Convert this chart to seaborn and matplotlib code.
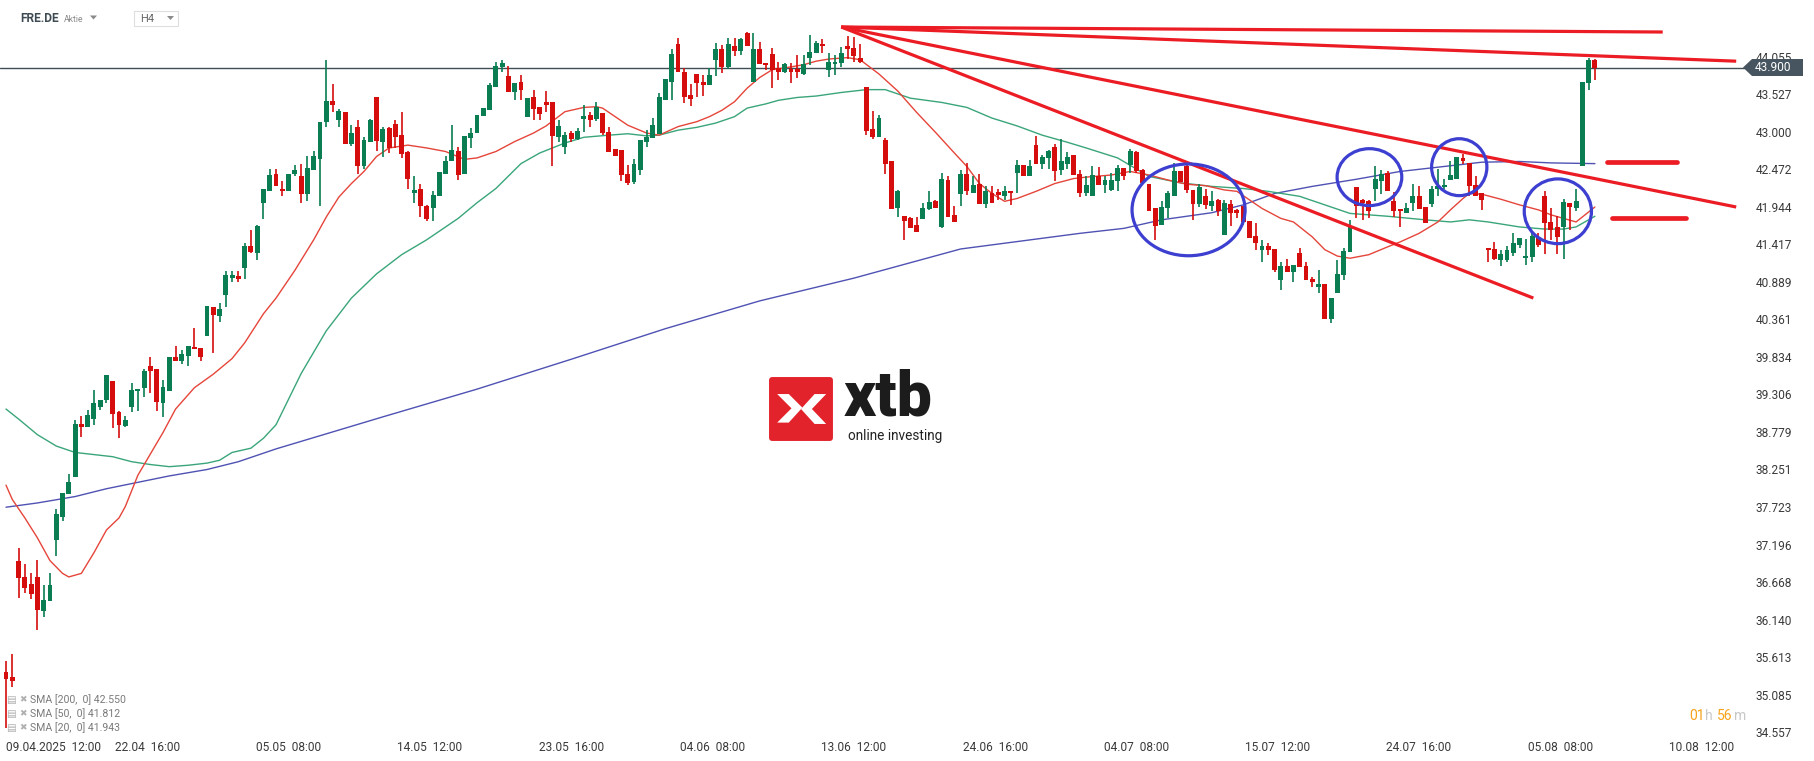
import numpy as np
import pandas as pd
import matplotlib
matplotlib.use("Agg")
import matplotlib.pyplot as plt
import seaborn as sns
from matplotlib.patches import Ellipse, Polygon, FancyBboxPatch, Rectangle

# ---------------- data (H4 candles, FRE.DE) ----------------
opens = [35.40, 35.33, 36.96, 36.74, 36.64, 36.74, 36.26, 36.40, 37.26, 37.58,
 37.91, 38.14, 38.89, 38.85, 38.96, 39.13, 39.23, 39.49, 39.06, 38.86,
 39.13, 39.35, 39.40, 39.70, 39.67, 39.18, 39.36, 39.83, 39.77, 39.84,
 39.97, 39.96, 40.13, 40.53, 40.41, 40.71, 40.94, 40.97, 41.08, 41.39,
 41.30, 41.99, 42.16, 42.41, 42.20, 42.17, 42.40, 42.38, 42.12, 42.46,
 42.61, 43.13, 43.43, 43.17, 43.28, 42.83, 43.06, 42.51, 42.86, 43.48,
 42.85, 43.05, 43.10, 42.95, 42.71, 42.13, 42.20, 41.95, 41.93, 42.09,
 42.40, 42.59, 42.73, 42.40, 42.91, 42.98, 43.22, 43.31, 43.63, 43.91,
 43.78, 43.56, 43.70, 43.21, 43.48, 43.35, 43.42, 43.42, 42.93, 42.79,
 42.98, 42.90, 43.18, 43.23, 43.18, 43.26, 42.99, 42.75, 42.74, 42.41,
 42.29, 42.46, 42.85, 42.91, 42.97, 43.45, 43.70, 44.23, 43.84, 43.51,
 43.81, 43.70, 43.65, 44.00, 44.16, 43.91, 44.20, 44.14, 44.38, 43.70,
 44.16, 43.97, 44.09, 43.89, 43.84, 43.88, 43.88, 43.81, 44.03, 44.10,
 44.23, 43.87, 43.95, 43.96, 44.20, 44.18, 44.04, 43.63, 43.04, 42.92,
 42.88, 42.59, 41.93, 41.81, 41.78, 41.69, 41.77, 41.91, 42.02, 41.66,
 42.32, 41.83, 42.12, 42.41, 42.14, 42.27, 41.98, 42.14, 42.15, 42.10,
 42.16, 42.42, 42.53, 42.37, 42.81, 42.55, 42.63, 42.78, 42.46, 42.55,
 42.67, 42.41, 42.14, 42.09, 42.38, 42.25, 42.18, 42.31, 42.49, 42.53,
 42.71, 42.46, 42.26, 41.92, 41.69, 41.92, 42.10, 42.44, 42.52, 42.18,
 41.98, 42.10, 41.96, 42.04, 41.55, 41.98, 41.90, 41.95, 41.75, 41.53,
 41.33, 41.39, 41.35, 40.91, 41.11, 41.02, 41.30, 41.11, 40.93, 40.82,
 40.86, 40.37, 40.73, 40.98, 41.31, 42.22, 42.04, 42.02, 42.19, 42.31,
 42.42, 42.03, 41.91, 41.86, 42.00, 42.10, 41.94, 41.98, 42.19, 42.22,
 42.32, 42.34, 42.63, 42.56, 42.25, 42.13, 41.37, 41.35, 41.19, 41.19,
 41.30, 41.40, 41.22, 41.24, 41.50, 42.09, 41.73, 41.66, 41.66, 41.99,
 41.92, 42.52, 43.68, 44.01]

highs = [35.56, 35.65, 37.14, 36.92, 36.80, 36.98, 36.63, 36.79, 37.69, 37.92,
 38.18, 38.94, 39.00, 39.09, 39.37, 39.23, 39.58, 39.49, 39.07, 39.00,
 39.47, 39.38, 39.66, 39.83, 39.67, 39.51, 39.83, 39.99, 39.93, 39.99,
 40.24, 39.96, 40.55, 40.53, 40.59, 41.04, 41.04, 41.04, 41.44, 41.62,
 41.69, 42.20, 42.47, 42.48, 42.30, 42.41, 42.53, 42.55, 42.66, 42.73,
 43.13, 44.01, 43.67, 43.32, 43.28, 43.09, 43.16, 42.92, 43.18, 43.48,
 43.06, 43.07, 43.16, 43.28, 42.73, 42.37, 42.27, 41.97, 42.17, 42.43,
 42.66, 43.09, 42.78, 42.94, 43.05, 43.24, 43.33, 43.69, 43.98, 44.01,
 43.92, 43.68, 43.80, 43.47, 43.59, 43.35, 43.57, 43.42, 43.17, 42.99,
 43.01, 43.05, 43.37, 43.27, 43.42, 43.26, 43.06, 42.75, 42.74, 42.53,
 42.61, 42.88, 43.02, 43.19, 43.54, 43.74, 44.16, 44.32, 43.89, 43.67,
 43.81, 43.80, 43.89, 44.24, 44.22, 44.31, 44.31, 44.31, 44.40, 44.38,
 44.26, 43.97, 44.17, 43.98, 43.97, 43.97, 44.08, 44.08, 44.36, 44.28,
 44.30, 44.10, 44.08, 44.19, 44.34, 44.33, 44.23, 43.63, 43.29, 43.24,
 42.91, 42.59, 42.18, 41.81, 41.80, 41.80, 41.99, 42.16, 42.04, 42.42,
 42.37, 41.95, 42.46, 42.56, 42.38, 42.40, 42.23, 42.23, 42.20, 42.23,
 42.16, 42.60, 42.53, 42.60, 42.94, 42.67, 42.74, 42.83, 42.89, 42.72,
 42.67, 42.46, 42.37, 42.51, 42.50, 42.37, 42.42, 42.53, 42.49, 42.75,
 42.73, 42.47, 42.26, 41.92, 42.03, 42.16, 42.56, 42.44, 42.55, 42.18,
 42.26, 42.19, 42.16, 42.05, 42.04, 42.04, 41.91, 41.95, 41.75, 41.71,
 41.48, 41.43, 41.35, 41.17, 41.21, 41.13, 41.37, 41.17, 40.96, 41.06,
 40.86, 40.66, 41.19, 41.36, 41.76, 42.22, 42.05, 42.04, 42.52, 42.46,
 42.44, 42.15, 41.91, 41.99, 42.26, 42.23, 41.94, 42.23, 42.47, 42.34,
 42.59, 42.64, 42.69, 42.56, 42.38, 42.13, 41.37, 41.45, 41.34, 41.39,
 41.58, 41.50, 41.49, 41.58, 41.57, 42.16, 41.92, 41.81, 42.05, 41.99,
 42.20, 43.70, 44.04, 44.02]

lows = [34.62, 35.19, 36.45, 36.52, 36.43, 35.99, 36.17, 36.40, 37.03, 37.52,
 37.90, 38.14, 38.71, 38.85, 38.87, 39.09, 39.18, 38.83, 38.70, 38.85,
 39.06, 39.07, 39.27, 39.33, 39.07, 38.99, 39.36, 39.77, 39.74, 39.71,
 39.94, 39.77, 40.13, 39.89, 40.33, 40.54, 40.89, 40.89, 40.93, 41.30,
 41.20, 41.77, 42.16, 42.23, 42.10, 42.17, 42.38, 42.00, 42.02, 42.46,
 41.96, 43.07, 43.27, 43.06, 42.83, 42.80, 42.40, 42.47, 42.86, 42.73,
 42.65, 42.70, 42.77, 42.63, 42.20, 42.00, 41.80, 41.75, 41.75, 42.09,
 42.40, 42.59, 42.32, 42.40, 42.77, 42.98, 43.22, 43.31, 43.63, 43.84,
 43.56, 43.44, 43.45, 43.21, 43.17, 43.17, 43.27, 42.52, 42.85, 42.69,
 42.85, 42.88, 42.99, 43.07, 43.15, 42.95, 42.72, 42.66, 42.30, 42.25,
 42.26, 42.39, 42.79, 42.91, 42.97, 43.44, 43.44, 43.84, 43.40, 43.36,
 43.48, 43.50, 43.65, 43.78, 43.83, 43.88, 44.06, 44.08, 44.21, 43.70,
 43.95, 43.86, 43.61, 43.72, 43.83, 43.69, 43.76, 43.80, 43.93, 44.10,
 44.11, 43.77, 43.80, 43.91, 44.02, 43.98, 43.97, 42.95, 42.90, 42.92,
 42.40, 41.91, 41.80, 41.47, 41.65, 41.59, 41.77, 41.90, 41.92, 41.65,
 41.80, 41.73, 41.95, 42.11, 42.14, 41.98, 41.92, 42.00, 42.04, 42.04,
 41.97, 42.14, 42.37, 42.37, 42.55, 42.48, 42.47, 42.31, 42.39, 42.47,
 42.39, 42.08, 42.09, 42.09, 42.25, 42.14, 42.17, 42.17, 42.32, 42.42,
 42.42, 42.28, 41.88, 41.48, 41.69, 41.78, 42.10, 42.29, 42.14, 41.76,
 41.94, 41.91, 41.89, 41.81, 41.55, 41.67, 41.78, 41.69, 41.51, 41.34,
 41.17, 41.27, 41.02, 40.78, 41.03, 40.89, 41.10, 40.91, 40.82, 40.73,
 40.36, 40.31, 40.73, 40.91, 41.31, 41.78, 41.76, 41.78, 42.02, 42.12,
 42.16, 41.80, 41.66, 41.86, 41.88, 41.91, 41.72, 41.94, 42.10, 42.20,
 42.32, 42.33, 42.55, 42.09, 42.09, 41.90, 41.17, 41.19, 41.11, 41.17,
 41.25, 41.36, 41.13, 41.17, 41.38, 41.28, 41.48, 41.28, 41.21, 41.62,
 41.89, 42.52, 43.58, 43.73]

closes = [35.30, 35.28, 36.72, 36.59, 36.50, 36.27, 36.41, 36.63, 37.62, 37.92,
 38.07, 38.89, 38.85, 39.02, 39.18, 39.23, 39.58, 39.03, 38.88, 38.95,
 39.37, 39.38, 39.63, 39.64, 39.20, 39.41, 39.83, 39.77, 39.87, 39.99,
 39.94, 39.83, 40.55, 40.42, 40.51, 40.98, 40.98, 40.93, 41.39, 41.31,
 41.67, 42.20, 42.39, 42.23, 42.17, 42.41, 42.46, 42.12, 42.49, 42.66,
 43.13, 43.43, 43.38, 43.29, 42.83, 42.98, 42.51, 42.88, 43.16, 42.87,
 43.04, 42.77, 42.93, 42.68, 42.33, 42.18, 41.95, 41.77, 42.11, 42.43,
 42.59, 42.74, 42.39, 42.94, 42.98, 43.24, 43.33, 43.65, 43.92, 43.97,
 43.56, 43.68, 43.58, 43.47, 43.32, 43.25, 43.38, 42.94, 43.08, 42.95,
 42.90, 43.01, 43.22, 43.16, 43.34, 42.98, 42.72, 42.66, 42.39, 42.28,
 42.55, 42.88, 42.93, 43.09, 43.48, 43.74, 44.09, 43.84, 43.49, 43.46,
 43.69, 43.65, 43.80, 44.16, 43.91, 44.23, 44.14, 44.30, 44.21, 44.16,
 43.95, 43.93, 43.86, 43.84, 43.95, 43.84, 43.84, 43.95, 44.12, 44.24,
 44.20, 43.98, 43.98, 44.10, 44.16, 44.06, 43.98, 43.01, 42.92, 43.19,
 42.54, 41.91, 42.17, 41.75, 41.65, 41.59, 41.92, 42.01, 41.92, 42.33,
 41.80, 41.73, 42.41, 42.16, 42.25, 41.98, 42.16, 42.00, 42.11, 42.16,
 42.13, 42.53, 42.37, 42.52, 42.55, 42.65, 42.73, 42.45, 42.58, 42.65,
 42.39, 42.14, 42.25, 42.39, 42.25, 42.32, 42.32, 42.49, 42.37, 42.73,
 42.44, 42.28, 41.88, 41.67, 41.94, 42.14, 42.44, 42.29, 42.18, 41.98,
 42.22, 41.97, 42.03, 41.88, 41.99, 41.85, 41.86, 41.73, 41.51, 41.44,
 41.39, 41.34, 41.06, 41.11, 41.03, 41.13, 41.10, 40.91, 40.88, 40.86,
 40.36, 40.66, 41.00, 41.32, 41.66, 41.95, 41.99, 41.88, 42.34, 42.41,
 42.17, 41.89, 41.88, 41.93, 42.10, 41.91, 41.72, 42.20, 42.23, 42.25,
 42.39, 42.64, 42.59, 42.23, 42.09, 42.04, 41.33, 41.21, 41.28, 41.34,
 41.43, 41.50, 41.25, 41.53, 41.41, 41.72, 41.62, 41.52, 42.01, 41.94,
 42.02, 43.70, 44.01, 43.90]

# moving-average lines (candle index, value)
sma20_idx = [0, 1, 3, 5, 7, 9, 10, 12, 14, 16, 18, 19, 21, 23, 25, 27, 30, 33, 36, 38, 41, 43, 46,
             49, 51, 53, 55, 57, 59, 61, 64, 67, 70, 73, 75, 78, 81, 84, 86, 89, 92, 94, 95, 97, 99,
             102, 104, 107, 110, 112, 114, 116, 118, 120, 122, 125, 127, 129, 131, 134, 136, 139, 142,
             145, 148, 151, 153, 155, 157, 159, 161, 164, 167, 170, 172, 176, 179, 182, 185, 188, 191,
             194, 196, 198, 200, 203, 205, 208, 210, 212, 214, 217, 220, 222, 225, 228, 230, 232, 233,
             235, 238, 241, 244, 246, 248, 250, 251, 253]
sma20_val = [38.03, 37.83, 37.57, 37.29, 36.97, 36.79, 36.74, 36.79, 37.08, 37.40, 37.57, 37.73, 38.17,
             38.47, 38.77, 39.10, 39.40, 39.59, 39.81, 40.03, 40.44, 40.66, 41.05,
             41.48, 41.80, 42.08, 42.27, 42.44, 42.65, 42.77, 42.81, 42.77, 42.72, 42.61, 42.63, 42.72,
             42.86, 42.98, 43.08, 43.28, 43.34, 43.35, 43.33, 43.21, 43.09,
             42.98, 42.95, 43.07, 43.14, 43.21, 43.30, 43.42, 43.61, 43.76, 43.87, 43.91, 43.94, 43.99,
             44.02, 44.04, 44.01, 43.81, 43.57, 43.27, 42.99, 42.70, 42.51, 42.27, 42.13, 42.02, 42.06,
             42.16, 42.27, 42.34, 42.36, 42.39, 42.44, 42.39, 42.32, 42.26, 42.24, 42.18, 42.16, 42.04,
             41.92, 41.78, 41.73, 41.52, 41.34, 41.25, 41.22, 41.27, 41.38, 41.45, 41.57, 41.73, 41.90,
             42.06, 42.13, 42.12, 42.05, 41.97, 41.90, 41.83, 41.78, 41.73, 41.80, 41.94]

sma50_idx = [0, 2, 5, 8, 11, 14, 17, 20, 23, 26, 29, 32, 34, 36, 39, 41, 43, 47, 51, 55, 59, 63, 67, 72,
             75, 78, 82, 85, 89, 92, 96, 99, 102, 104, 107, 110, 113, 116, 118, 121, 123, 126, 129, 133,
             137, 140, 144, 149, 153, 157, 161, 165, 169, 172, 177, 182, 187, 192, 197, 201, 206, 210,
             214, 220, 226, 230, 233, 236, 241, 245, 248, 250, 252, 253]
sma50_val = [39.10, 38.96, 38.74, 38.58, 38.49, 38.46, 38.43, 38.36, 38.32, 38.29, 38.31, 38.34, 38.38,
             38.49, 38.55, 38.69, 38.88, 39.60, 40.20, 40.66, 41.00, 41.27, 41.48, 41.78,
             42.00, 42.20, 42.55, 42.70, 42.84, 42.92, 42.95, 42.97, 42.94, 42.95, 43.02, 43.06, 43.12,
             43.21, 43.33, 43.39, 43.44, 43.48, 43.50, 43.55, 43.59, 43.59, 43.47, 43.41, 43.34, 43.19,
             43.08, 42.95, 42.85, 42.77, 42.63, 42.37, 42.28, 42.23, 42.20, 42.16, 42.09, 41.97, 41.85,
             41.81, 41.76, 41.73, 41.76, 41.73, 41.66, 41.63, 41.63, 41.66, 41.76, 41.81]

sma200_idx = [0, 5, 11, 16, 21, 26, 32, 37, 43, 60, 75, 90, 105, 120, 135, 152, 171, 178, 184, 192,
              197, 202, 208, 215, 222, 230, 235, 241, 246, 253]
sma200_val = [37.72, 37.78, 37.87, 37.98, 38.07, 38.16, 38.25, 38.36, 38.54, 38.99, 39.38, 39.80,
              40.23, 40.62, 40.94, 41.35, 41.57, 41.64, 41.76, 41.86, 41.97, 42.13, 42.23, 42.33,
              42.44, 42.52, 42.57, 42.58, 42.56, 42.55]

sma_legend = ["SMA [200,  0] 42.550", "SMA [50,  0] 41.812", "SMA [20,  0] 41.943"]

price_ticks = [44.055, 43.527, 43.000, 42.472, 41.944, 41.417, 40.889, 40.361, 39.834, 39.306,
               38.779, 38.251, 37.723, 37.196, 36.668, 36.140, 35.613, 35.085, 34.557]
time_labels = ["09.04.2025  12:00", "22.04  16:00", "05.05  08:00", "14.05  12:00", "23.05  16:00",
               "04.06  08:00", "13.06  12:00", "24.06  16:00", "04.07  08:00", "15.07  12:00",
               "24.07  16:00", "05.08  08:00", "10.08  12:00"]
last_price = 43.900

# drawn annotations (candle index, price)
trend_lines = [((133.0, 44.47), (263.8, 44.40)),
               ((133.0, 44.47), (275.5, 43.99)),
               ((133.0, 44.47), (275.5, 41.94)),
               ((133.0, 44.47), (243.2, 40.66))]
level_marks = [((254.9, 42.577), (266.0, 42.577)), ((255.7, 41.781), (267.5, 41.781))]
ellipses = [(188.3, 41.90, 18.0, 1.29), (217.1, 42.36, 10.3, 0.80),
            (231.4, 42.50, 8.8, 0.80), (247.1, 41.88, 10.7, 0.91)]

# ---------------- figure ----------------
sns.set_theme(style="white")
plt.rcParams['font.family'] = ['Roboto', 'DejaVu Sans']

W, H = 1815, 761
fx = lambda px: px / W
fy = lambda py: 1 - py / H

fig = plt.figure(figsize=(W / 100, H / 100), dpi=100)
fig.patch.set_facecolor('white')
ax = fig.add_axes([0, fy(738), fx(1745), 738 / H])
ax.set_facecolor('white')

GREEN = '#0b7d52'
RED = '#d60d0d'

o = np.array(opens); h = np.array(highs); l = np.array(lows); c = np.array(closes)
x = np.arange(len(o))
up = c >= o
cols = np.where(up, GREEN, RED)
bottoms = np.minimum(o, c)
heights = np.maximum(np.abs(c - o), 0.022)

ax.vlines(x, l, h, colors=cols, lw=1.2, zorder=3)
ax.bar(x, heights, bottom=bottoms, width=0.78, color=cols, linewidth=0, zorder=4)

# moving averages with seaborn
df = pd.concat([
    pd.DataFrame({'i': sma200_idx, 'v': sma200_val, 'name': 'SMA200'}),
    pd.DataFrame({'i': sma50_idx, 'v': sma50_val, 'name': 'SMA50'}),
    pd.DataFrame({'i': sma20_idx, 'v': sma20_val, 'name': 'SMA20'}),
])
sns.lineplot(data=df, x='i', y='v', hue='name', estimator=None, sort=True, legend=False,
             palette={'SMA200': '#4f52b3', 'SMA50': '#3aa57a', 'SMA20': '#e5453a'},
             lw=1.0, ax=ax, zorder=2)

ax.axhline(last_price, color='#3f4d55', lw=1.0, zorder=1)

for (x0, y0), (x1, y1) in trend_lines:
    ax.plot([x0, x1], [y0, y1], color='#ec1c24', lw=2.3, solid_capstyle='butt', zorder=6)
for (x0, y0), (x1, y1) in level_marks:
    ax.plot([x0, x1], [y0, y1], color='#ec1c24', lw=3.4, solid_capstyle='round', zorder=6)
for (cx, cy, ew, eh) in ellipses:
    ax.add_patch(Ellipse((cx, cy), ew, eh, fill=False, ec='#3c3fcf', lw=2.3, zorder=7))

ax.set_xlim(-0.955, 276.9)
ax.set_ylim(34.476, 44.85)
ax.set_xlabel('')
ax.set_ylabel('')
for s in ax.spines.values():
    s.set_visible(False)
ax.grid(False)

ax.yaxis.tick_right()
ax.set_yticks(price_ticks)
ax.set_yticklabels([f"{v:.3f}" for v in price_ticks])
ax.tick_params(axis='y', length=0, pad=7.5, labelsize=8.6, labelcolor='#3a3a3a')

xpos = [k * 22.5 for k in range(len(time_labels))]
ax.set_xticks(xpos)
ax.set_xticklabels(time_labels)
ax.tick_params(axis='x', length=0, pad=2.5, labelsize=8.6, labelcolor='#3a3a3a')
ax.get_xticklabels()[0].set_horizontalalignment('left')

# current price tag
tag = Polygon([(fx(1743), fy(67.5)), (fx(1752), fy(59)), (fx(1803), fy(59)),
               (fx(1803), fy(76)), (fx(1752), fy(76))], closed=True,
              transform=fig.transFigure, fc='#46555f', ec='none', zorder=10)
fig.add_artist(tag)
fig.text(fx(1755), fy(67.5), f"{last_price:.3f}", color='white', fontsize=8.6,
         va='center', ha='left', zorder=11)

# header
fig.text(fx(20), fy(18.5), "FRE.DE", fontsize=8.6, fontweight='bold', color='#3d4a52', va='center')
fig.text(fx(63.5), fy(19.5), "Aktie", fontsize=6.2, color='#8a8a8a', va='center')
fig.add_artist(Polygon([(fx(90), fy(15.5)), (fx(97), fy(15.5)), (fx(93.5), fy(19.5))],
                       transform=fig.transFigure, fc='#8a8a8a', ec='none'))
fig.add_artist(Rectangle((fx(134), fy(25.5)), 44 / W, 14.5 / H, transform=fig.transFigure,
                         fc='white', ec='#dedede', lw=0.8))
fig.text(fx(140), fy(18.5), "H4", fontsize=8, color='#666666', va='center')
fig.add_artist(Polygon([(fx(167), fy(16)), (fx(174), fy(16)), (fx(170.5), fy(20))],
                       transform=fig.transFigure, fc='#8a8a8a', ec='none'))

# indicator legend
for k, lab in enumerate(sma_legend):
    yy = 700 + 14 * k
    fig.text(fx(6), fy(yy), "\u25A4", fontsize=7.5, color='#b0b0b0', va='center',
             family=['DejaVu Sans'])
    fig.text(fx(19), fy(yy), "\u2716", fontsize=6.5, color='#b0b0b0', va='center',
             family=['DejaVu Sans'])
    fig.text(fx(30), fy(yy), lab, fontsize=7.6, color='#7a7a7a', va='center')

# countdown
cd = [("01", '#f7a21b', 1689), ("h", '#c8c8c8', 1705), ("56", '#f7a21b', 1717), ("m", '#c8c8c8', 1734)]
for t, colr, xp in cd:
    fig.text(fx(xp), fy(716), t, fontsize=10, color=colr, va='center', ha='left')

# watermark logo
lax = fig.add_axes([fx(767), fy(443), 68 / W, 68 / H])
lax.set_xlim(0, 1); lax.set_ylim(0, 1); lax.axis('off')
lax.add_patch(FancyBboxPatch((0.03, 0.03), 0.94, 0.94, boxstyle='round,pad=0,rounding_size=0.05',
                             fc='#e3232b', ec='none'))
lax.add_patch(Polygon([(0.15, 0.72), (0.32, 0.72), (0.52, 0.52), (0.32, 0.30), (0.15, 0.30),
                       (0.36, 0.51)], closed=True, fc='white', ec='none'))
lax.add_patch(Polygon([(0.50, 0.50), (0.70, 0.72), (0.87, 0.72), (0.66, 0.50), (0.87, 0.28),
                       (0.70, 0.28)], closed=True, fc='white', ec='none'))
fig.text(fx(844), fy(415), "xtb", fontsize=45, fontweight='heavy', color='#1c1c1c', va='baseline')
fig.text(fx(848), fy(436), "online investing", fontsize=9.8, color='#222222', va='center')

fig.savefig('out.png', dpi=100, facecolor='white')
